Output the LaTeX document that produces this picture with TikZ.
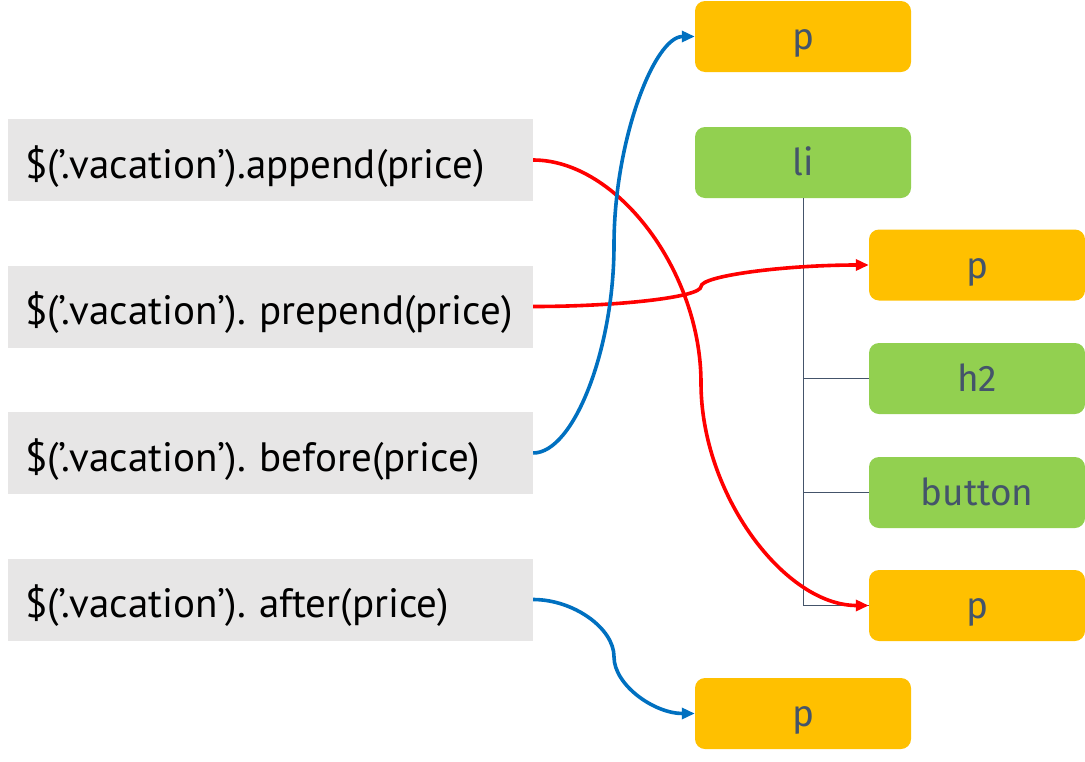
\documentclass[tikz,border=0pt]{standalone}
\usepackage{fontspec}
\setmainfont{PT Sans}
\newfontfamily\tagfont{Fira Sans}
\usetikzlibrary{arrows.meta}

\definecolor{codegray}{HTML}{E7E6E6}
\definecolor{porange}{HTML}{FFC000}
\definecolor{tgreen}{HTML}{92D050}
\definecolor{labelgray}{HTML}{44546A}
\definecolor{moveblue}{HTML}{0070C0}

\begin{document}
\frenchspacing
\begin{tikzpicture}[
  x=1pt, y=-1pt,
  code/.style={fill=codegray, minimum height=82pt, text width=491pt,
    inner xsep=17pt, align=left, font=\fontsize{41}{46}\selectfont,
    text height=37pt, text depth=1pt},
  elem/.style={rounded corners=10pt, minimum width=216pt, minimum height=71pt,
    text=labelgray, font=\tagfont\fontsize{37}{42}\selectfont,
    text height=28pt, text depth=2pt},
  pbox/.style={elem, fill=porange},
  tagbox/.style={elem, fill=tgreen},
  tree/.style={draw=labelgray, line width=1pt},
  move/.style={line width=3.6pt, -{Triangle[length=13pt,width=11pt]}},
]
  \useasboundingbox (0,0) rectangle (1085,761);

  % method calls
  \node[code] (append)  at (270.5,160)   {\$(’.vacation’).append(price)};
  \node[code] (prepend) at (270.5,306.5) {\$(’.vacation’). prepend(price)};
  \node[code] (before)  at (270.5,453)   {\$(’.vacation’). before(price)};
  \node[code] (after)   at (270.5,599.5) {\$(’.vacation’). after(price)};

  % elements
  \node[pbox]   (pbefore)  at (803,36.5)  {p};
  \node[tagbox] (li)       at (803,162.5) {li};
  \node[pbox]   (pprepend) at (977,265)   {p};
  \node[tagbox] (h2)       at (977,378.5) {h2};
  \node[tagbox] (button)   at (977,492.5) {button};
  \node[pbox]   (pappend)  at (977,605.5) {p};
  \node[pbox]   (pafter)   at (803,713.5) {p};

  % tree
  \draw[tree] (li.south) |- (pappend.west);
  \draw[tree] (li.south |- h2.west) -- (h2.west);
  \draw[tree] (li.south |- button.west) -- (button.west);

  % bends
  \coordinate (appbend) at (701,383);
  \coordinate (prebend) at (701,286.5);
  \coordinate (befbend) at (614,245);
  \coordinate (aftbend) at (614,656.75);

  \draw[move, red] (append.east) .. controls +(84,0) and +(0,-111.5) .. (appbend)
    .. controls +(0,111.5) and +(-84,0) .. (pappend.west);
  \draw[move, red] (prepend.east) .. controls +(84,0) and +(0,10.75) .. (prebend)
    .. controls +(0,-10.75) and +(-84,0) .. (pprepend.west);
  \draw[move, moveblue] (before.east) .. controls +(40.5,0) and +(0,104) .. (befbend)
    .. controls +(0,-104) and +(-40.5,0) .. (pbefore.west);
  \draw[move, moveblue] (after.east) .. controls +(40.5,0) and +(0,-28.4) .. (aftbend)
    .. controls +(0,28.4) and +(-40.5,0) .. (pafter.west);
\end{tikzpicture}
\end{document}
